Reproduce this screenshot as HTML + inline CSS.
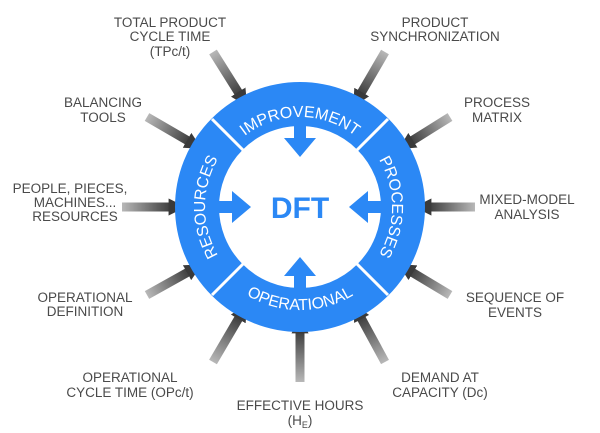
<!DOCTYPE html>
<html><head><meta charset="utf-8"><style>
html,body{margin:0;padding:0;background:#fff;}
svg{display:block;}
.l{font-family:"Liberation Sans",sans-serif;font-size:13.5px;fill:#4a4a4a;text-anchor:middle;}
.r{font-family:"Liberation Sans",sans-serif;font-size:16px;fill:#fff;}
</style></head><body>
<svg width="600" height="433" viewBox="0 0 600 433" xmlns="http://www.w3.org/2000/svg">
<defs>
<marker id="h" viewBox="0 0 10 10" refX="2" refY="5" markerWidth="1.9" markerHeight="1.9" orient="auto" markerUnits="strokeWidth"><path d="M0,0 L10,5 L0,10 Z" fill="#3a3a3a"/></marker>
<linearGradient id="g0" gradientUnits="userSpaceOnUse" x1="213" y1="52" x2="240" y2="95"><stop offset="0" stop-color="#b8b8b8"/><stop offset="1" stop-color="#3a3a3a"/></linearGradient>
<linearGradient id="g1" gradientUnits="userSpaceOnUse" x1="385" y1="52" x2="360" y2="95"><stop offset="0" stop-color="#b8b8b8"/><stop offset="1" stop-color="#3a3a3a"/></linearGradient>
<linearGradient id="g2" gradientUnits="userSpaceOnUse" x1="147" y1="117" x2="190" y2="142"><stop offset="0" stop-color="#b8b8b8"/><stop offset="1" stop-color="#3a3a3a"/></linearGradient>
<linearGradient id="g3" gradientUnits="userSpaceOnUse" x1="450" y1="117" x2="410" y2="142"><stop offset="0" stop-color="#b8b8b8"/><stop offset="1" stop-color="#3a3a3a"/></linearGradient>
<linearGradient id="g4" gradientUnits="userSpaceOnUse" x1="122" y1="207" x2="172" y2="207"><stop offset="0" stop-color="#b8b8b8"/><stop offset="1" stop-color="#3a3a3a"/></linearGradient>
<linearGradient id="g5" gradientUnits="userSpaceOnUse" x1="475" y1="207" x2="428" y2="207"><stop offset="0" stop-color="#b8b8b8"/><stop offset="1" stop-color="#3a3a3a"/></linearGradient>
<linearGradient id="g6" gradientUnits="userSpaceOnUse" x1="147" y1="295" x2="190" y2="271"><stop offset="0" stop-color="#b8b8b8"/><stop offset="1" stop-color="#3a3a3a"/></linearGradient>
<linearGradient id="g7" gradientUnits="userSpaceOnUse" x1="450" y1="295" x2="410" y2="271"><stop offset="0" stop-color="#b8b8b8"/><stop offset="1" stop-color="#3a3a3a"/></linearGradient>
<linearGradient id="g8" gradientUnits="userSpaceOnUse" x1="213" y1="362" x2="240" y2="316"><stop offset="0" stop-color="#b8b8b8"/><stop offset="1" stop-color="#3a3a3a"/></linearGradient>
<linearGradient id="g9" gradientUnits="userSpaceOnUse" x1="385" y1="362" x2="360" y2="316"><stop offset="0" stop-color="#b8b8b8"/><stop offset="1" stop-color="#3a3a3a"/></linearGradient>
<linearGradient id="g10" gradientUnits="userSpaceOnUse" x1="300" y1="382" x2="300" y2="330"><stop offset="0" stop-color="#b8b8b8"/><stop offset="1" stop-color="#3a3a3a"/></linearGradient>
<path id="pt" d="M210 207 A90 90 0 0 1 390 207"/>
<path id="pl" d="M300 302 A95 95 0 0 1 300 112"/>
<path id="pr" d="M300 115 A92 92 0 0 1 300 299"/>
<path id="pb" d="M197 207 A103 103 0 0 0 403 207"/>
</defs>
<g stroke-width="9" marker-end="url(#h)">
<line x1="213" y1="52" x2="240" y2="95" stroke="url(#g0)"/>
<line x1="385" y1="52" x2="360" y2="95" stroke="url(#g1)"/>
<line x1="147" y1="117" x2="190" y2="142" stroke="url(#g2)"/>
<line x1="450" y1="117" x2="410" y2="142" stroke="url(#g3)"/>
<line x1="122" y1="207" x2="172" y2="207.01" stroke="url(#g4)"/>
<line x1="475" y1="207" x2="428" y2="207.01" stroke="url(#g5)"/>
<line x1="147" y1="295" x2="190" y2="271" stroke="url(#g6)"/>
<line x1="450" y1="295" x2="410" y2="271" stroke="url(#g7)"/>
<line x1="213" y1="362" x2="240" y2="316" stroke="url(#g8)"/>
<line x1="385" y1="362" x2="360" y2="316" stroke="url(#g9)"/>
<line x1="300" y1="382" x2="300.01" y2="330" stroke="url(#g10)"/>
</g>
<circle cx="300" cy="207" r="103" fill="none" stroke="#2b88f5" stroke-width="44"/>
<g stroke="#fff" stroke-width="3">
<line x1="243" y1="150" x2="212" y2="119"/>
<line x1="357" y1="150" x2="388" y2="119"/>
<line x1="243" y1="264" x2="212" y2="295"/>
<line x1="357" y1="264" x2="388" y2="295"/>
</g>
<g fill="#2b88f5">
<path d="M294 123 h12 v15 h10 l-16 19 l-16 -19 h10 z"/>
<path d="M294 291 h12 v-15 h10 l-16 -19 l-16 19 h10 z"/>
<path d="M217 201 v12 h15 v10 l19 -16 l-19 -16 v10 z"/>
<path d="M383 201 v12 h-15 v10 l-19 -16 l19 -16 v10 z"/>
</g>
<text x="300" y="218" text-anchor="middle" font-family="Liberation Sans,sans-serif" font-weight="bold" font-size="30" fill="#2b88f5">DFT</text>
<text class="r"><textPath href="#pt" startOffset="50%" text-anchor="middle">IMPROVEMENT</textPath></text>
<text class="r"><textPath href="#pl" startOffset="50%" text-anchor="middle">RESOURCES</textPath></text>
<text class="r"><textPath href="#pr" startOffset="50%" text-anchor="middle">PROCESSES</textPath></text>
<text class="r"><textPath href="#pb" startOffset="50%" text-anchor="middle">OPERATIONAL</textPath></text>
<g class="l">
<text x="170" y="27">TOTAL PRODUCT</text><text x="170" y="41">CYCLE TIME</text><text x="170" y="56">(TPc/t)</text>
<text x="103" y="107">BALANCING</text><text x="103" y="122">TOOLS</text>
<text x="70" y="193">PEOPLE, PIECES,</text><text x="75" y="207">MACHINES...</text><text x="75" y="221">RESOURCES</text>
<text x="435" y="27">PRODUCT</text><text x="435" y="41">SYNCHRONIZATION</text>
<text x="497" y="107">PROCESS</text><text x="497" y="122">MATRIX</text>
<text x="527" y="204">MIXED-MODEL</text><text x="527" y="219">ANALYSIS</text>
<text x="85" y="302">OPERATIONAL</text><text x="85" y="316">DEFINITION</text>
<text x="515" y="302">SEQUENCE OF</text><text x="515" y="317">EVENTS</text>
<text x="130" y="382">OPERATIONAL</text><text x="130" y="397">CYCLE TIME (OPc/t)</text>
<text x="300" y="410">EFFECTIVE HOURS</text><text x="300" y="425">(H<tspan font-size="9" dy="3">E</tspan><tspan dy="-3">)</tspan></text>
<text x="440" y="382">DEMAND AT</text><text x="440" y="397">CAPACITY (Dc)</text>
</g>
</svg>
</body></html>
